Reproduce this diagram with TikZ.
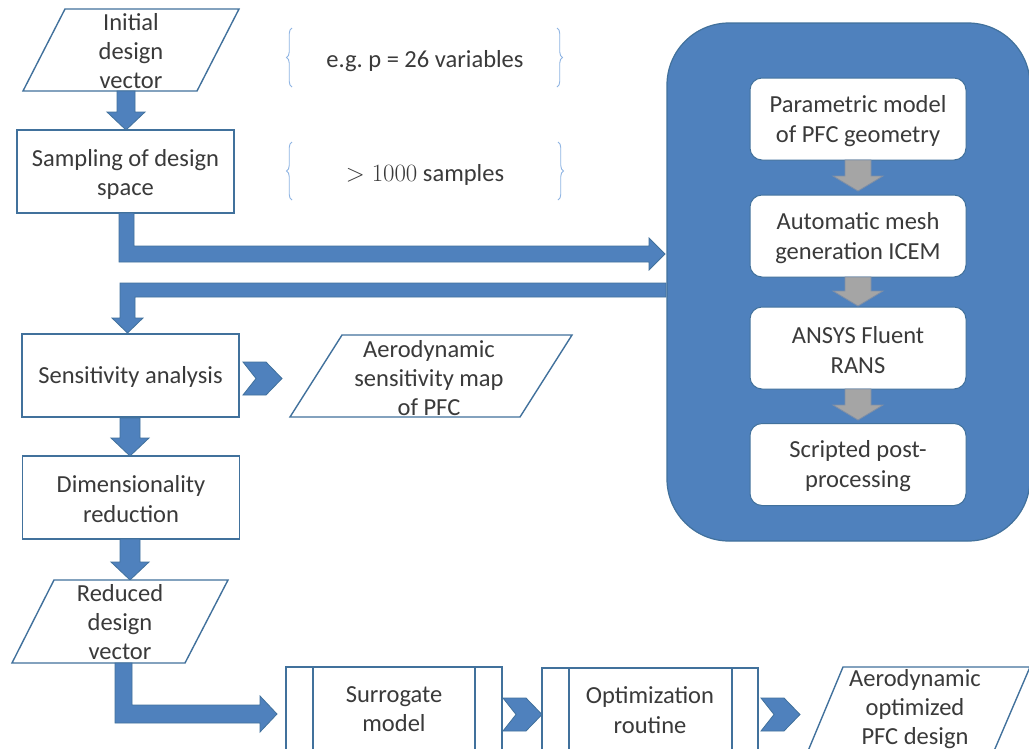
\documentclass[tikz,border=0pt]{standalone}
\usepackage{fontspec}
\setmainfont{Carlito}
\usetikzlibrary{decorations.pathreplacing}
\definecolor{blk}{HTML}{4F81BD}
\definecolor{bord}{HTML}{41719C}
\definecolor{txtc}{HTML}{3A3A3A}
\definecolor{brc}{HTML}{8EB4E3}
\definecolor{gfill}{HTML}{A5A5A5}
\definecolor{gbord}{HTML}{7F8FA6}
\frenchspacing
\tikzset{
  txt/.style={text=txtc, font=\fontsize{24.5}{29.3}\selectfont, align=center, inner sep=0pt},
  boxst/.style={draw=bord, line width=1.4pt, fill=white, rectangle, minimum width=217pt, minimum height=83pt, txt},
  pbox/.style={draw=bord, line width=1.4pt, fill=white, line join=miter},
  inbox/.style={draw=bord, line width=1pt, fill=white, rounded corners=12pt, rectangle, minimum width=216pt, minimum height=82pt, txt},
  barrow/.style={fill=blk, draw=bord, line width=0.8pt, line join=miter},
  garrow/.style={fill=gfill, draw=gbord, line width=0.8pt, line join=miter},
  bracest/.style={draw=brc, line width=0.9pt, decorate, decoration={brace, amplitude=5.5pt}},
  dn/.style={text depth=0pt, label={}, yshift=0pt},
}
\newcommand{\vblk}[7]{% style, x, ytop, ybot, half shaft, half head, head length
  \path[#1] ({#2-#5},#3) -- ({#2+#5},#3) -- ({#2+#5},{#4-#7}) -- ({#2+#6},{#4-#7}) -- (#2,#4) -- ({#2-#6},{#4-#7}) -- ({#2-#5},{#4-#7}) -- cycle;}
\newcommand{\chev}[3]{% xleft, ytop, ybot
  \path[barrow] (#1,#2) -- ({#1+23},#2) -- ({#1+39},{(#2+#3)/2}) -- ({#1+23},#3) -- (#1,#3) -- ({#1+13},{(#2+#3)/2}) -- cycle;}
\begin{document}
\begin{tikzpicture}[x=1pt,y=-1pt]
\useasboundingbox (0,0) rectangle (1029,748);
\clip (0,0) rectangle (1029,748);
\fill[white] (0,0) rectangle (1029,748);

% big process container
\path[fill=blk, draw=bord, line width=1.2pt, rounded corners=62pt] (667,23) rectangle (1030,541);
\node[inbox] (param) at (858,119) {};
\node[txt] (paramt) at (858,121) {Parametric model\\of PFC geometry};
\node[inbox] (mesh) at (858,236) {};
\node[txt] (mesht) at (858,238) {Automatic mesh\\generation ICEM};
\node[inbox] (ansys) at (858,348) {};
\node[txt] (ansyst) at (858,350) {ANSYS Fluent\\RANS};
\node[inbox] (post) at (858,464.5) {};
\node[txt] (postt) at (858,466) {Scripted post-\\processing};
\vblk{garrow}{858}{160}{191}{13}{25}{15}
\vblk{garrow}{858}{277}{306}{13}{25}{15}
\vblk{garrow}{858}{389}{420}{13}{25}{15}

% initial design vector
\path[pbox] (65,9) -- (239,9) -- (197,91) -- (23,91) -- cycle;
\node[txt] (init) at (131,51) {Initial\\design\\vector};
\vblk{barrow}{126}{91}{130}{9}{19}{18}

% sampling
\node[boxst] (samp) at (125.5,171.5) {};
\node[txt] (sampt) at (125.5,174.5) {Sampling of design\\space};

% braces
\draw[bracest] (292,87) -- (292,28);
\draw[bracest] (557,28) -- (557,87);
\node[txt] (pvar) at (425,61) {e.g. p = 26 variables};
\draw[bracest] (292,200) -- (292,142);
\draw[bracest] (558,142) -- (558,200);
\node[txt] (nsamp) at (425,175) {$>1000$ samples};

% elbow arrow to container
\path[barrow] (119,213) -- (134,213) -- (134,246) -- (649,246) -- (649,238) -- (665,254) -- (649,270) -- (649,262) -- (119,262) -- cycle;
% elbow arrow back
\path[barrow] (666,283) -- (666,297) -- (135,297) -- (135,318) -- (143,318) -- (127.5,333) -- (112,318) -- (120,318) -- (120,283) -- cycle;

% sensitivity
\node[boxst] (sens) at (130.5,375.5) {};
\node[txt] (senst) at (130.5,377) {Sensitivity analysis};
\chev{243}{362}{395}
\path[pbox] (342,335) -- (572,335) -- (520,417) -- (290,417) -- cycle;
\node[txt] (smap) at (429,378) {Aerodynamic\\sensitivity map\\of PFC};

\vblk{barrow}{130}{418}{456}{10}{19}{18}
\node[boxst] (dim) at (131,497.5) {};
\node[txt] (dimt) at (131,499) {Dimensionality\\reduction};
\vblk{barrow}{130}{539}{580}{10}{19}{18}

% reduced design vector
\path[pbox] (54,580) -- (228,580) -- (185,663) -- (12,663) -- cycle;
\node[txt] (red) at (120,622) {Reduced\\design\\vector};
\path[barrow] (115,663) -- (132,663) -- (132,705) -- (260,705) -- (260,696) -- (277,714) -- (260,732) -- (260,723) -- (115,723) -- cycle;

% surrogate
\draw[pbox] (286,667) rectangle (502,770);
\draw[bord, line width=1.4pt] (313,667) -- (313,770) (475,667) -- (475,770);
\node[txt] (surr) at (394,709) {Surrogate\\model};
\chev{503}{698}{731}

% optimization
\draw[pbox] (542,668) rectangle (758,770);
\draw[bord, line width=1.4pt] (569,668) -- (569,770) (732,668) -- (732,770);
\node[txt] (opt) at (650,710) {Optimization\\routine};
\chev{761}{698}{731}

% final design
\path[pbox] (843,667) -- (1030,667) -- (994,751) -- (808,751) -- cycle;
\node[txt] (final) at (915,709) {Aerodynamic\\optimized\\PFC design};
\end{tikzpicture}
\end{document}
